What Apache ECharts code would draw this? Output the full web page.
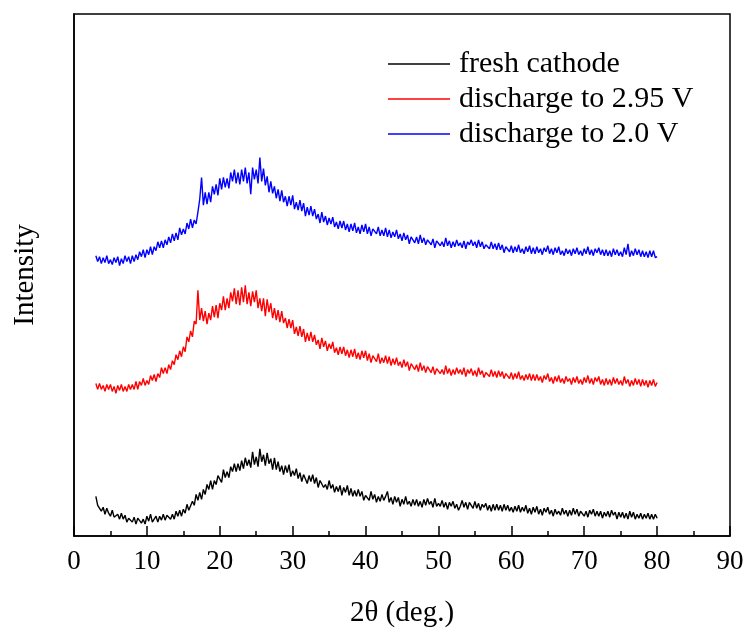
<!DOCTYPE html>
<html>
<head>
<meta charset="utf-8">
<script src="https://cdn.jsdelivr.net/npm/echarts@6/dist/echarts.min.js"></script>
<style>
  html, body { margin: 0; padding: 0; background: #fff; }
  #main { width: 748px; height: 633px; }
</style>
</head>
<body>
<div id="main"></div>
<script>
// XRD patterns, 2theta from 3 to 80 deg in 0.25 deg steps
const thetaStart = 3;
const thetaStep = 0.25;
const xTicks = [0, 10, 20, 30, 40, 50, 60, 70, 80, 90];
const seriesNames = ['fresh cathode', 'discharge to 2.95 V', 'discharge to 2.0 V'];
const seriesColors = ['#000000', '#ff0000', '#0000ff'];

// intensity (arb. units, curves already offset), one row = 5 deg
const freshCathode = [
  40, 31, 33, 25, 29, 22, 28, 23, 20, 26, 19, 17, 22, 17, 23, 17, 21, 14, 18, 20,
  14, 19, 12, 18, 20, 13, 17, 12, 20, 15, 22, 14, 16, 20, 14, 20, 16, 22, 16, 21,
  22, 17, 22, 17, 25, 20, 26, 20, 27, 23, 32, 26, 26, 35, 31, 42, 36, 44, 37, 47,
  42, 52, 47, 56, 47, 56, 52, 61, 59, 54, 67, 59, 65, 59, 70, 65, 73, 65, 73, 66,
  76, 68, 79, 71, 77, 69, 85, 72, 80, 70, 88, 75, 82, 71, 84, 73, 78, 67, 79, 67,
  75, 65, 71, 62, 71, 64, 72, 60, 66, 61, 68, 58, 64, 55, 62, 63, 53, 61, 55, 62,
  53, 59, 49, 56, 58, 49, 52, 47, 56, 48, 52, 44, 50, 45, 51, 41, 49, 44, 51, 41,
  48, 40, 46, 40, 47, 40, 45, 36, 41, 43, 36, 45, 37, 42, 34, 40, 35, 42, 36, 40,
  45, 34, 39, 32, 40, 34, 39, 30, 37, 32, 40, 32, 35, 30, 37, 31, 37, 30, 35, 29,
  37, 31, 38, 32, 35, 29, 38, 30, 33, 30, 36, 29, 34, 27, 34, 30, 35, 28, 32, 26,
  30, 36, 29, 34, 27, 34, 32, 28, 35, 28, 33, 26, 32, 29, 33, 26, 31, 25, 32, 26,
  32, 26, 31, 25, 32, 26, 31, 25, 29, 24, 30, 25, 31, 24, 29, 25, 31, 23, 28, 22,
  29, 24, 30, 22, 27, 21, 28, 24, 29, 22, 26, 20, 27, 22, 25, 21, 28, 22, 26, 20,
  26, 21, 28, 22, 27, 20, 25, 26, 20, 25, 19, 26, 22, 27, 20, 25, 20, 25, 18, 24,
  20, 25, 19, 26, 21, 24, 17, 24, 19, 24, 18, 23, 17, 25, 19, 24, 17, 22, 18, 23,
  17, 22, 18, 23, 17, 22, 17, 22, 18
];

const discharge295 = [
  154, 148, 154, 148, 152, 146, 153, 148, 153, 146, 151, 144, 152, 147, 153, 146, 151, 146, 153, 148,
  153, 148, 156, 148, 156, 152, 159, 152, 157, 153, 162, 157, 163, 156, 164, 160, 170, 164, 170, 164,
  173, 168, 177, 173, 183, 178, 187, 181, 191, 186, 201, 196, 207, 201, 217, 214, 248, 218, 230, 217,
  227, 214, 225, 218, 232, 221, 233, 220, 235, 228, 242, 228, 240, 230, 246, 237, 250, 234, 248, 233,
  251, 236, 253, 234, 246, 232, 247, 236, 248, 230, 240, 227, 240, 222, 239, 226, 235, 220, 230, 218,
  228, 216, 227, 215, 220, 210, 219, 210, 218, 204, 211, 202, 212, 201, 209, 196, 205, 197, 206, 196,
  203, 193, 198, 189, 200, 191, 197, 187, 194, 189, 196, 185, 190, 183, 191, 184, 191, 182, 188, 180,
  188, 181, 189, 179, 185, 178, 187, 180, 187, 177, 184, 175, 182, 184, 176, 184, 174, 180, 175, 182,
  174, 181, 172, 179, 173, 180, 172, 176, 170, 178, 171, 176, 167, 174, 175, 168, 173, 166, 175, 167,
  172, 165, 171, 172, 165, 171, 163, 169, 171, 164, 168, 163, 172, 164, 169, 162, 168, 163, 170, 164,
  168, 163, 170, 161, 168, 164, 169, 162, 167, 161, 170, 163, 167, 160, 165, 167, 161, 168, 161, 166,
  160, 167, 161, 166, 159, 164, 166, 159, 165, 158, 164, 159, 166, 158, 162, 157, 163, 158, 164, 157,
  163, 157, 163, 157, 161, 155, 162, 158, 164, 156, 160, 154, 161, 156, 162, 155, 159, 154, 161, 156,
  159, 153, 160, 155, 161, 154, 158, 153, 160, 155, 162, 154, 159, 153, 160, 156, 161, 153, 158, 152,
  159, 153, 158, 152, 160, 154, 159, 153, 157, 152, 161, 154, 158, 151, 157, 152, 159, 153, 158, 151,
  158, 152, 157, 150, 157, 152, 158, 151, 155
];

const discharge20 = [
  283, 277, 282, 275, 281, 276, 283, 275, 279, 274, 281, 276, 282, 273, 280, 275, 283, 277, 282, 275,
  283, 277, 284, 279, 287, 282, 289, 281, 289, 284, 292, 284, 292, 288, 297, 291, 298, 291, 299, 294,
  302, 296, 305, 298, 306, 299, 311, 304, 310, 305, 316, 310, 320, 311, 319, 315, 327, 340, 362, 334,
  347, 335, 347, 337, 353, 345, 355, 344, 361, 350, 362, 352, 361, 351, 367, 358, 370, 356, 367, 355,
  370, 358, 372, 356, 367, 345, 372, 360, 370, 356, 382, 358, 371, 354, 363, 347, 358, 346, 353, 341,
  350, 338, 349, 337, 343, 333, 343, 334, 344, 330, 337, 329, 339, 328, 336, 323, 332, 324, 333, 323,
  330, 320, 325, 316, 327, 317, 323, 314, 321, 315, 322, 312, 317, 310, 318, 311, 318, 309, 315, 307,
  315, 308, 316, 306, 312, 305, 314, 307, 315, 305, 312, 303, 310, 312, 305, 312, 303, 309, 303, 311,
  302, 309, 301, 307, 302, 309, 300, 305, 298, 306, 299, 304, 295, 302, 304, 296, 302, 295, 304, 296,
  301, 294, 299, 301, 294, 300, 291, 298, 300, 293, 297, 292, 301, 293, 298, 291, 297, 292, 299, 293,
  296, 291, 298, 290, 297, 294, 299, 293, 297, 291, 299, 292, 297, 290, 294, 296, 290, 297, 290, 295,
  289, 296, 289, 294, 286, 292, 294, 287, 293, 286, 292, 287, 294, 286, 290, 285, 292, 287, 293, 285,
  291, 285, 292, 286, 290, 284, 291, 287, 293, 285, 290, 284, 291, 286, 292, 284, 288, 283, 290, 285,
  289, 283, 290, 285, 291, 284, 288, 283, 290, 285, 292, 284, 289, 283, 290, 286, 291, 284, 289, 283,
  289, 283, 288, 282, 290, 284, 289, 283, 287, 282, 291, 284, 295, 282, 288, 283, 290, 284, 289, 282,
  288, 282, 287, 281, 288, 282, 288, 281, 282
];

const chart = echarts.init(document.getElementById('main'));

function toPairs(values) {
  return values.map((v, i) => [thetaStart + i * thetaStep, v]);
}

const font = '"Liberation Serif", "Times New Roman", serif';
const allData = [freshCathode, discharge295, discharge20];

const option = {
  animation: false,
  backgroundColor: '#fff',
  grid: {
    left: 74, right: 18, top: 14, bottom: 93,
    show: true, borderColor: '#000', borderWidth: 1.5
  },
  legend: {
    orient: 'vertical',
    left: 383,
    top: 44,
    itemWidth: 62,
    itemHeight: 1.5,
    itemGap: 5,
    icon: 'rect',
    data: seriesNames,
    textStyle: { fontFamily: font, fontSize: 30, color: '#000', padding: [0, 0, 0, 4], lineHeight: 30 }
  },
  xAxis: {
    type: 'value',
    min: xTicks[0],
    max: xTicks[xTicks.length - 1],
    interval: 10,
    name: '2θ (deg.)',
    nameLocation: 'middle',
    nameGap: 63,
    nameTextStyle: { fontFamily: font, fontSize: 29, color: '#000' },
    axisLine: { lineStyle: { color: '#000', width: 1.5 } },
    axisTick: { inside: true, length: 10, lineStyle: { color: '#000', width: 1.5 } },
    minorTick: { show: true, splitNumber: 2, length: 5, lineStyle: { color: '#000', width: 1.5 } },
    axisLabel: { fontFamily: font, fontSize: 27, color: '#000', margin: 12 },
    splitLine: { show: false }
  },
  yAxis: {
    type: 'value',
    min: 0,
    max: 527,
    name: 'Intensity',
    nameLocation: 'middle',
    nameGap: 34,
    nameTextStyle: { fontFamily: font, fontSize: 29, color: '#000' },
    axisLine: { show: true, lineStyle: { color: '#000', width: 1.5 } },
    axisTick: { show: false },
    axisLabel: { show: false },
    splitLine: { show: false }
  },
  series: seriesNames.map((name, k) => ({
    name: name,
    type: 'line',
    data: toPairs(allData[k]),
    showSymbol: false,
    color: seriesColors[k],
    lineStyle: { width: 1.4, color: seriesColors[k] }
  }))
};

chart.setOption(option);
</script>
</body>
</html>
